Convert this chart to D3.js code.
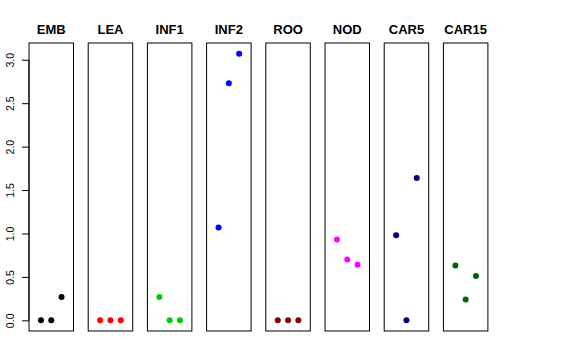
<!DOCTYPE html>
<html>
<head>
<meta charset="utf-8">
<script src="https://cdn.jsdelivr.net/npm/d3@7"></script>
<style>
  body { margin: 0; background: #fff; }
  text { font-family: "Liberation Sans", Arial, sans-serif; }
</style>
</head>
<body>
<svg id="chart"></svg>
<script>
let width = 576
let height = 360

// one panel per tissue, three samples each
let tissues = ['EMB', 'LEA', 'INF1', 'INF2', 'ROO', 'NOD', 'CAR5', 'CAR15']
let colors = ['#000000', '#ff0000', '#00cd00', '#0000ff', '#8b0000', '#ff00ff', '#000080', '#006400']
let values = [
  [0, 0, 0.27],
  [0, 0, 0],
  [0.27, 0, 0],
  [1.07, 2.73, 3.07],
  [0, 0, 0],
  [0.93, 0.70, 0.64],
  [0.98, 0, 1.64],
  [0.63, 0.24, 0.51]
]
let yTicks = [0, 0.5, 1.0, 1.5, 2.0, 2.5, 3.0]

let plotTop = 43, plotBottom = 331
let firstLeft = 29, panelW = 44.5, step = 59.2

let svg = d3.select('#chart')
  .attr('width', width)
  .attr('height', height)

// y scale shared by all panels (R style 4% padding)
let y = d3.scaleLinear()
  .domain([-0.1228, 3.1928])
  .range([plotBottom, plotTop])

// x within a panel: samples 1..3, xlim 0..4 padded
let x = d3.scaleLinear()
  .domain([-0.16, 4.16])
  .range([0, panelW])

let panels = svg.selectAll('g.panel')
  .data(tissues)
  .enter()
  .append('g')
  .attr('class', 'panel')
  .attr('transform', (d, i) => 'translate(' + (firstLeft + i * step) + ',0)')

panels.append('rect')
  .attr('x', 0)
  .attr('y', plotTop)
  .attr('width', panelW)
  .attr('height', plotBottom - plotTop)
  .attr('fill', 'none')
  .attr('stroke', '#000')
  .attr('stroke-width', 1)

panels.append('text')
  .attr('x', panelW / 2)
  .attr('y', 34)
  .attr('text-anchor', 'middle')
  .attr('font-weight', 'bold')
  .attr('font-size', 13)
  .text(d => d)

panels.selectAll('circle')
  .data((d, i) => values[i].map(v => ({ v: v, c: colors[i] })))
  .enter()
  .append('circle')
  .attr('cx', (d, j) => x(j + 1))
  .attr('cy', d => y(d.v))
  .attr('r', 3)
  .attr('fill', d => d.c)

// y axis on the first panel only
let yAxis = d3.axisLeft(y)
  .tickValues(yTicks)
  .tickFormat(d3.format('.1f'))
  .tickSize(7)
  .tickPadding(6)

let axisG = svg.append('g')
  .attr('transform', 'translate(' + firstLeft + ',0)')
  .call(yAxis)

axisG.select('.domain')
  .attr('d', 'M0,' + y(0) + 'V' + y(3))

axisG.selectAll('.tick text')
  .attr('font-size', 10.5)
  .attr('font-family', '"Liberation Sans", Arial, sans-serif')
  .attr('text-anchor', 'middle')
  .attr('transform', 'rotate(-90)')
  .attr('x', 0)
  .attr('dy', 0)
  .attr('y', -15)
</script>
</body>
</html>
